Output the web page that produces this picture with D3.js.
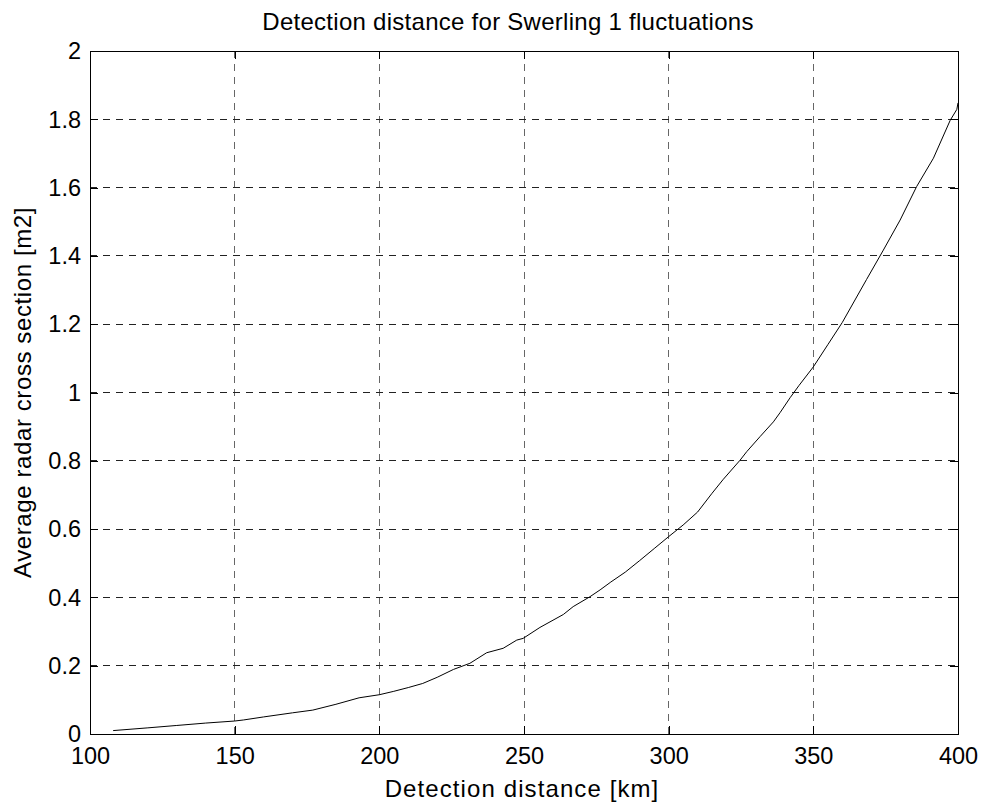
<!DOCTYPE html>
<html>
<head>
<meta charset="utf-8">
<script src="https://cdn.jsdelivr.net/npm/d3@7"></script>
<style>
  html, body { margin: 0; padding: 0; background: #fff; }
  svg { display: block; font-family: "Liberation Sans", Arial, sans-serif; }
</style>
</head>
<body>
<svg id="chart" width="982" height="802"></svg>
<script>
// Detection distance (km) against the average radar cross section (m2)
const distanceKm = [108, 120, 130, 140, 150, 153, 160, 170, 177, 185, 193, 200, 205, 210, 215, 220, 225.6,
  231.3, 237.1, 242.8, 247.5, 249.7, 255.5, 263.6, 267, 272.8, 276.3, 280, 285, 290, 295, 300, 305, 310,
  315, 318.9, 324.7, 327, 331.6, 336.2, 338.5, 342, 345, 350, 355, 360, 364, 368.4, 374.2, 380, 385.7,
  391.5, 397.3, 399.6, 400];
const rcsM2 = [0.010, 0.018, 0.025, 0.032, 0.038, 0.041, 0.050, 0.062, 0.070, 0.087, 0.106, 0.115, 0.125,
  0.136, 0.148, 0.166, 0.189, 0.207, 0.238, 0.251, 0.275, 0.280, 0.312, 0.350, 0.373, 0.402, 0.422, 0.445,
  0.474, 0.508, 0.543, 0.578, 0.612, 0.650, 0.705, 0.746, 0.802, 0.827, 0.871, 0.914, 0.941, 0.985, 1.020,
  1.075, 1.140, 1.205, 1.265, 1.331, 1.417, 1.505, 1.603, 1.686, 1.797, 1.829, 1.848];

const xTicks = [100, 150, 200, 250, 300, 350, 400];
const yTicks = [0, 0.2, 0.4, 0.6, 0.8, 1, 1.2, 1.4, 1.6, 1.8, 2];

const titleText = "Detection distance for Swerling 1 fluctuations";
const xLabel = "Detection distance [km]";
const yLabel = "Average radar cross section [m2]";

const svg = d3.select("#chart");
const plotLeft = 90, plotRight = 958, plotTop = 51, plotBottom = 734;
const fontSize = 23.5;

const x = d3.scaleLinear().domain([100, 400]).range([plotLeft, plotRight]);
const y = d3.scaleLinear().domain([0, 2]).range([plotBottom, plotTop]);

// grid
const grid = svg.append("g").attr("shape-rendering", "crispEdges");
grid.selectAll("line.vx").data(xTicks.slice(1, -1)).join("line")
  .attr("x1", d => x(d)).attr("x2", d => x(d))
  .attr("y1", plotTop).attr("y2", plotBottom)
  .attr("stroke", "#666").attr("stroke-width", 1).attr("stroke-dasharray", "7,6");
grid.selectAll("line.hy").data(yTicks.slice(1, -1)).join("line")
  .attr("x1", plotLeft).attr("x2", plotRight)
  .attr("y1", d => y(d)).attr("y2", d => y(d))
  .attr("stroke", "#222").attr("stroke-width", 1).attr("stroke-dasharray", "7,6");

// axes with inward ticks on all four sides
const tickLen = 8;
const fmt = d => String(+d.toFixed(1));
const gx = svg.append("g").attr("transform", `translate(0,${plotBottom})`)
  .call(d3.axisBottom(x).tickValues(xTicks).tickSizeInner(-tickLen).tickSizeOuter(0).tickPadding(13).tickFormat(d3.format("d")));
const gy = svg.append("g").attr("transform", `translate(${plotLeft},0)`)
  .call(d3.axisLeft(y).tickValues(yTicks).tickSizeInner(-tickLen).tickSizeOuter(0).tickPadding(9).tickFormat(fmt));
const gt = svg.append("g").attr("transform", `translate(0,${plotTop})`)
  .call(d3.axisTop(x).tickValues(xTicks).tickSizeInner(-tickLen).tickSizeOuter(0).tickFormat(""));
const gr = svg.append("g").attr("transform", `translate(${plotRight},0)`)
  .call(d3.axisRight(y).tickValues(yTicks).tickSizeInner(-tickLen).tickSizeOuter(0).tickFormat(""));

[gx, gy, gt, gr].forEach(g => {
  g.attr("shape-rendering", "crispEdges");
  g.select(".domain").attr("stroke", "#000").attr("stroke-width", 1.3);
  g.selectAll(".tick line").attr("stroke", "#000");
  g.selectAll(".tick text").attr("fill", "#000").attr("font-size", fontSize)
    .attr("font-family", "'Liberation Sans', Arial, sans-serif");
});
gx.selectAll(".tick text").attr("dy", "0.71em");
gy.selectAll(".tick text").attr("dy", "0.33em");

// data line
const line = d3.line().x((d, i) => x(distanceKm[i])).y(d => y(d));
svg.append("path").datum(rcsM2)
  .attr("d", line)
  .attr("fill", "none").attr("stroke", "#000").attr("stroke-width", 1);

// title and axis labels
svg.append("text").attr("x", 508).attr("y", 30)
  .attr("text-anchor", "middle").attr("font-size", 24).attr("letter-spacing", 0.27).text(titleText);
svg.append("text").attr("x", 522).attr("y", 797)
  .attr("text-anchor", "middle").attr("font-size", 24).attr("letter-spacing", 1.1).text(xLabel);
svg.append("text").attr("transform", `translate(31,${(plotTop + plotBottom) / 2}) rotate(-90)`)
  .attr("text-anchor", "middle").attr("font-size", 24).attr("letter-spacing", 0.6).text(yLabel);
</script>
</body>
</html>
